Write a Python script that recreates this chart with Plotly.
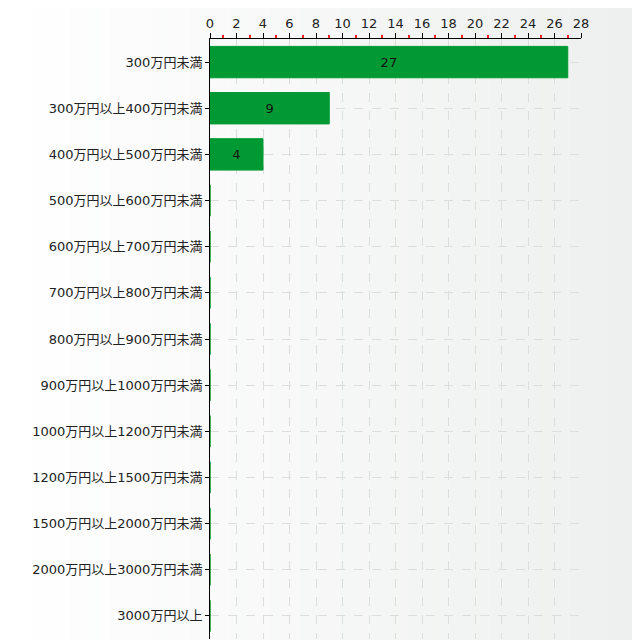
import plotly.graph_objects as go

categories = [
    "300万円未満",
    "300万円以上400万円未満",
    "400万円以上500万円未満",
    "500万円以上600万円未満",
    "600万円以上700万円未満",
    "700万円以上800万円未満",
    "800万円以上900万円未満",
    "900万円以上1000万円未満",
    "1000万円以上1200万円未満",
    "1200万円以上1500万円未満",
    "1500万円以上2000万円未満",
    "2000万円以上3000万円未満",
    "3000万円以上",
]
counts = [27, 9, 4, 0, 0, 0, 0, 0, 0, 0, 0, 0, 0]
labels = [str(c) if c else "" for c in counts]

font = "DejaVu Sans, Noto Sans CJK JP"

fig = go.Figure()
fig.add_trace(go.Bar(
    x=counts,
    y=categories,
    orientation="h",
    text=labels,
    textposition="inside",
    insidetextanchor="middle",
    textfont=dict(color="#111111", size=13, family=font),
    marker=dict(color="#009933", line=dict(color="#009933", width=1)),
    width=0.68,
))

# the page body has an 8px margin, so the figure sits 8px right/down
off = 8
size = 640 - off
left, top = 210 - off, 39 - off
plot_w, plot_h = 581 - 210, 600

# soft left-to-right background gradient
shapes = []
n = 64
for i in range(n):
    t = i / (n - 1)
    r = round(255 + (237 - 255) * t)
    g = round(255 + (240 - 255) * t)
    b = round(255 + (238 - 255) * t)
    x0 = (i * 640 / n - off - left) / plot_w
    x1 = ((i + 1) * 640 / n - off - left) / plot_w
    shapes.append(dict(type="rect", xref="paper", yref="paper",
                       x0=x0, x1=x1 + 0.002, y0=-0.1, y1=1.2,
                       fillcolor=f"rgb({r},{g},{b})", line=dict(width=0),
                       layer="below"))

fig.update_layout(
    width=size, height=size,
    margin=dict(l=left, r=size - left - plot_w, t=top, b=size - top - plot_h),
    paper_bgcolor="rgb(237,240,238)",
    plot_bgcolor="rgba(0,0,0,0)",
    showlegend=False,
    shapes=shapes,
    font=dict(family=font, size=13, color="#222222"),
    xaxis=dict(
        side="top", range=[0, 28], dtick=2, tick0=0,
        showline=True, linecolor="black", linewidth=1,
        ticks="outside", ticklen=5, tickcolor="black",
        showgrid=True, gridcolor="#dcdedc", griddash="dash", gridwidth=1,
        zeroline=False,
        tickfont=dict(size=13, color="#222222"),
        minor=dict(ticks="outside", ticklen=3, tickwidth=1.5, tickcolor="#ff2020",
                   dtick=1, showgrid=False),
    ),
    yaxis=dict(
        autorange="reversed",
        showline=True, linecolor="black", linewidth=1,
        ticks="outside", ticklen=4, tickcolor="black",
        showgrid=True, gridcolor="#dcdedc", griddash="dash", gridwidth=1,
        tickfont=dict(size=13, color="#222222"),
    ),
)

fig.write_html("out.html")
